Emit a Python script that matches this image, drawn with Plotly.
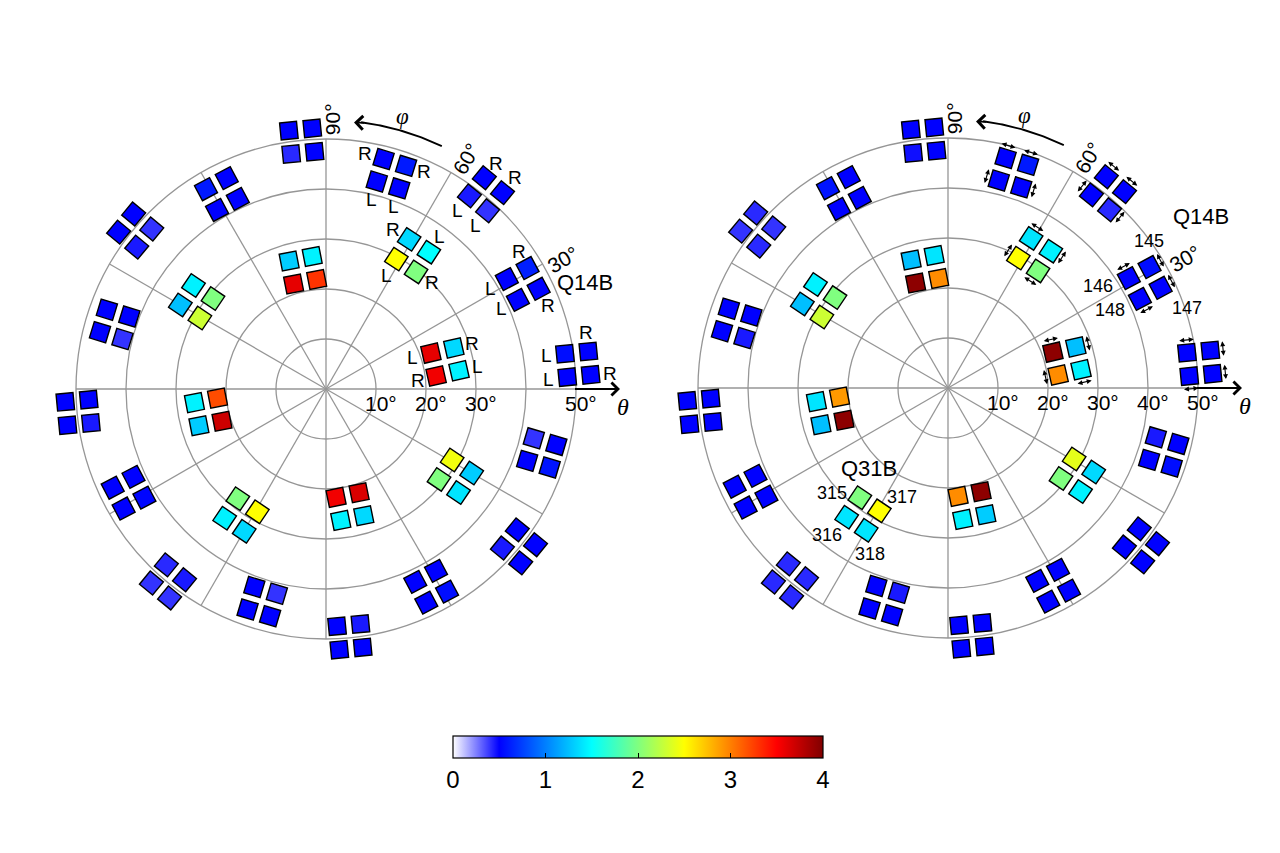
import numpy as np
import plotly.graph_objects as go
from plotly.colors import sample_colorscale

# clover positions: theta (radius) and phi (azimuth), degrees
OUTER_PHI = [95.6, 73.1, 50.6, 28.1, 5.6, -16.5, -39.2, -62.0,
             -84.5, -106.7, -129.4, -152.3, -174.6, 163.0, 140.3, 118.1]
OUTER_THETA = [49.8, 45.0, 50.4, 44.6, 50.6, 45.0, 49.8, 44.8,
               49.8, 44.4, 49.8, 44.6, 49.8, 44.2, 49.6, 44.2]
INNER_PHI = [101.0, 57.0, 12.8, -34.0, -78.5, -124.0, -169.0, 146.0]
INNER_THETA = [24.2, 31.8, 24.4, 31.2, 24.0, 30.4, 24.0, 31.2]

# crystal values per clover, order: (outer,+phi) (outer,-phi) (inner,+phi) (inner,-phi)
LEFT_OUTER = [
    [0.50, 0.50, 0.42, 0.50], [0.50, 0.60, 0.50, 0.50], [0.50, 0.50, 0.45, 0.40], [0.62, 0.50, 0.50, 0.50],
    [0.50, 0.50, 0.55, 0.50], [0.50, 0.58, 0.40, 0.50], [0.50, 0.50, 0.50, 0.45], [0.55, 0.50, 0.50, 0.50],
    [0.50, 0.50, 0.45, 0.50], [0.50, 0.50, 0.40, 0.50], [0.40, 0.40, 0.45, 0.42], [0.50, 0.50, 0.52, 0.50],
    [0.50, 0.50, 0.45, 0.50], [0.50, 0.50, 0.40, 0.50], [0.50, 0.50, 0.45, 0.40], [0.60, 0.50, 0.50, 0.50],
]
LEFT_INNER = [
    [1.30, 1.45, 3.60, 3.30], [1.35, 1.50, 2.50, 2.00], [1.35, 1.45, 3.60, 3.55], [1.30, 1.40, 2.45, 2.00],
    [1.35, 1.45, 3.65, 3.55], [1.35, 1.45, 2.50, 2.00], [1.30, 1.45, 3.70, 3.20], [1.25, 1.45, 2.30, 2.00],
]
RIGHT_OUTER = [
    [0.50, 0.50, 0.47, 0.50], [0.50, 0.60, 0.50, 0.50], [0.50, 0.50, 0.50, 0.42], [0.55, 0.50, 0.50, 0.50],
    [0.50, 0.50, 0.50, 0.50], [0.50, 0.55, 0.45, 0.50], [0.50, 0.50, 0.50, 0.50], [0.50, 0.50, 0.50, 0.50],
    [0.50, 0.50, 0.50, 0.50], [0.50, 0.50, 0.45, 0.50], [0.42, 0.42, 0.42, 0.42], [0.50, 0.50, 0.50, 0.50],
    [0.50, 0.50, 0.50, 0.50], [0.50, 0.50, 0.45, 0.50], [0.40, 0.42, 0.42, 0.40], [0.58, 0.50, 0.50, 0.50],
]
RIGHT_INNER = [
    [1.25, 1.40, 3.95, 2.95], [1.40, 1.45, 2.50, 2.00], [1.25, 1.45, 3.95, 2.95], [1.35, 1.45, 2.40, 2.00],
    [1.30, 1.45, 3.95, 2.95], [1.40, 1.40, 2.50, 2.00], [1.25, 1.40, 3.95, 2.90], [1.25, 1.45, 2.30, 2.00],
]

RINGS = [10, 20, 30, 40, 50]
SPOKES = list(range(0, 360, 30))
PHI_TICKS = [30, 60, 90]
LEFT_THETA_TICKS = [10, 20, 30, 50]
RIGHT_THETA_TICKS = [10, 20, 30, 40, 50]
CBAR_TICKS = [0, 1, 2, 3, 4]

# left panel crystal names, right panel segmentation arrows (r = radial, t = tangential)
LR_LABELS = {("o", 1): "RRLL", ("o", 2): "RRLL", ("o", 3): "RRLL", ("o", 4): "RRLL",
             ("i", 1): "RLLR", ("i", 2): "RLLR"}
LR_SIDE = {("o", 1): "vvuu", ("o", 2): "uuuu", ("o", 3): "vvuu", ("o", 4): "vuuu",
           ("i", 1): "vuuv", ("i", 2): "uuuu"}
SEG_ARROWS = {("o", 1): "ttrr", ("o", 2): "ttrr", ("o", 3): "ttrr", ("o", 4): "ttrr",
              ("i", 1): "trrt", ("i", 2): "trrt"}
Q14B_IDS = ["145", "147", "146", "148"]
Q31B_IDS = ["318", "316", "317", "315"]

JET_W = [[0.0, "rgb(255,255,255)"], [0.125, "rgb(0,0,255)"], [0.375, "rgb(0,255,255)"],
         [0.625, "rgb(255,255,0)"], [0.875, "rgb(255,0,0)"], [1.0, "rgb(128,0,0)"]]
VMAX = 4.0

QUAD = [(1, 1), (1, -1), (-1, 1), (-1, -1)]
SQ_OFF = 2.35    # crystal centre offset from clover centre (deg)
SQ_HALF = 1.7    # half side of a crystal (deg)
GRID = "rgb(150,150,150)"
FONT = "Liberation Sans"


def basis(phi):
    p = np.radians(phi)
    return np.array([np.cos(p), np.sin(p)]), np.array([-np.sin(p), np.cos(p)])


def crystal(theta, phi, su, sv):
    u, v = basis(phi)
    return theta * u + SQ_OFF * (su * u + sv * v), u, v


def square_path(c, u, v):
    h = SQ_HALF
    pts = [c + h * (u + v), c + h * (u - v), c + h * (-u - v), c + h * (-u + v)]
    return "M" + " L".join(f"{p[0]:.3f},{p[1]:.3f}" for p in pts) + " Z"


fig = go.Figure()
shapes, annos = [], []

panels = [("x", "y", LEFT_OUTER, LEFT_INNER, LEFT_THETA_TICKS),
          ("x2", "y2", RIGHT_OUTER, RIGHT_INNER, RIGHT_THETA_TICKS)]

for pi, (xr, yr, outer_vals, inner_vals, tticks) in enumerate(panels):
    # grid
    for r in RINGS:
        shapes.append(dict(type="circle", xref=xr, yref=yr, x0=-r, x1=r, y0=-r, y1=r,
                           line=dict(color=GRID, width=1.3)))
    for s in SPOKES:
        u, _ = basis(s)
        shapes.append(dict(type="line", xref=xr, yref=yr, x0=0, y0=0, x1=RINGS[-1] * u[0], y1=RINGS[-1] * u[1],
                           line=dict(color=GRID, width=1.3)))

    rings = [("o", OUTER_THETA, OUTER_PHI, outer_vals), ("i", INNER_THETA, INNER_PHI, inner_vals)]
    for key, thetas, phis, vals in rings:
        for gi, (th, ph, vv) in enumerate(zip(thetas, phis, vals)):
            cols = sample_colorscale(JET_W, [x / VMAX for x in vv])
            for qi, (su, sv) in enumerate(QUAD):
                c, u, v = crystal(th, ph, su, sv)
                shapes.append(dict(type="path", xref=xr, yref=yr, path=square_path(c, u, v),
                                   fillcolor=cols[qi], line=dict(color="black", width=1.4)))
                if pi == 0 and (key, gi) in LR_LABELS:
                    side = LR_SIDE[(key, gi)][qi]
                    off = su * u if side == "u" else sv * v
                    p = c + 3.8 * off
                    annos.append(dict(x=p[0], y=p[1], xref=xr, yref=yr, text=LR_LABELS[(key, gi)][qi],
                                      showarrow=False, font=dict(size=19)))
                if pi == 1 and (key, gi) in SEG_ARROWS:
                    kind = SEG_ARROWS[(key, gi)][qi]
                    if kind == "r":
                        mid, d = c + 2.55 * sv * v, u
                    else:
                        mid, d = c + 2.55 * su * u, v
                    a0, a1 = mid - 1.6 * d, mid + 1.6 * d
                    annos.append(dict(x=a1[0], y=a1[1], ax=a0[0], ay=a0[1], xref=xr, yref=yr,
                                      axref=xr, ayref=yr, text="", showarrow=True, arrowside="end+start",
                                      arrowhead=2, startarrowhead=2, arrowsize=0.9, startarrowsize=0.9,
                                      arrowwidth=1.1, arrowcolor="black"))

    # theta axis arrow and labels
    annos.append(dict(x=58.8, y=0, ax=RINGS[-1] - 0.5, ay=0, xref=xr, yref=yr, axref=xr, ayref=yr, text="",
                      showarrow=True, arrowhead=4, arrowsize=1.4, arrowwidth=1.8, arrowcolor="black"))
    annos.append(dict(x=59.3, y=-3.5, xref=xr, yref=yr, text="<i>θ</i>", showarrow=False,
                      font=dict(size=24, family="Liberation Serif")))
    for t in tticks:
        annos.append(dict(x=t + 1.0, y=-2.9, xref=xr, yref=yr, text=f"{t}°", showarrow=False,
                          font=dict(size=21)))
    for t in PHI_TICKS:
        u, _ = basis(t - 1.3)
        annos.append(dict(x=54.0 * u[0], y=54.0 * u[1], xref=xr, yref=yr, text=f"{t}°", showarrow=False,
                          textangle=-t, font=dict(size=21)))

    # phi direction arrow
    arc = np.radians(np.linspace(64.5, 82.5, 40))
    fig.add_trace(go.Scatter(x=53.8 * np.cos(arc), y=53.8 * np.sin(arc), mode="lines", xaxis=xr, yaxis=yr,
                             line=dict(color="black", width=1.9), hoverinfo="skip", showlegend=False))
    e0, e1 = np.radians(81.5), np.radians(84.0)
    annos.append(dict(x=53.6 * np.cos(e1), y=53.6 * np.sin(e1), ax=53.8 * np.cos(e0), ay=53.8 * np.sin(e0),
                      xref=xr, yref=yr, axref=xr, ayref=yr, text="", showarrow=True, arrowhead=4,
                      arrowsize=1.4, arrowwidth=1.9, arrowcolor="black"))
    u, _ = basis(74.3)
    annos.append(dict(x=56.6 * u[0], y=56.6 * u[1], xref=xr, yref=yr, text="<i>φ</i>", showarrow=False,
                      font=dict(size=23, family="Liberation Serif")))

    # clover name Q14B
    q14 = OUTER_THETA[3] * basis(OUTER_PHI[3])[0]
    shift = (62, 1) if pi == 0 else (56, 66)
    annos.append(dict(x=q14[0], y=q14[1], xref=xr, yref=yr, text="Q14B", showarrow=False,
                      xshift=shift[0], yshift=shift[1], font=dict(size=22)))

# crystal numbers on the right panel
id_shifts_14 = [(-1, 26), (26, -20), (-31, -8), (-30, -11)]
id_shifts_31 = [(4, -24), (-20, -18), (23, 14), (-28, 5)]
for qi, (su, sv) in enumerate(QUAD):
    c, _, _ = crystal(OUTER_THETA[3], OUTER_PHI[3], su, sv)
    annos.append(dict(x=c[0], y=c[1], xref="x2", yref="y2", text=Q14B_IDS[qi], showarrow=False,
                      xshift=id_shifts_14[qi][0], yshift=id_shifts_14[qi][1], font=dict(size=18)))
    c, _, _ = crystal(INNER_THETA[5], INNER_PHI[5], su, sv)
    annos.append(dict(x=c[0], y=c[1], xref="x2", yref="y2", text=Q31B_IDS[qi], showarrow=False,
                      xshift=id_shifts_31[qi][0], yshift=id_shifts_31[qi][1], font=dict(size=18)))
q31 = INNER_THETA[5] * basis(INNER_PHI[5])[0]
annos.append(dict(x=q31[0], y=q31[1], xref="x2", yref="y2", text="Q31B", showarrow=False,
                  xshift=6, yshift=46, font=dict(size=22)))

# colour bar
fig.add_trace(go.Scatter(
    x=[None], y=[None], mode="markers", showlegend=False, hoverinfo="skip",
    marker=dict(color=[0], colorscale=JET_W, cmin=0, cmax=VMAX, showscale=True,
                colorbar=dict(orientation="h", x=630 / 1280, xanchor="center", y=1 - 728 / 853, yanchor="top",
                              len=370, lenmode="pixels", thickness=22, outlinewidth=1.2, outlinecolor="black",
                              tickvals=CBAR_TICKS, ticks="inside", ticklen=5, tickcolor="black",
                              tickfont=dict(size=24, family=FONT, color="black"), xpad=0, ypad=0)),
))

# the page adds an 8 px body margin, so the plot centres sit 8 px up/left of the target
axis_off = dict(visible=False, showgrid=False, zeroline=False, fixedrange=True)
fig.update_layout(
    width=1280, height=853, margin=dict(l=0, r=0, t=0, b=0, autoexpand=False),
    paper_bgcolor="white", plot_bgcolor="white",
    font=dict(family=FONT, color="black"),
    xaxis=dict(domain=[0, 0.5], range=[-63.6, 64.4], **axis_off),
    yaxis=dict(domain=[0, 1], range=[-94.4, 76.2], **axis_off),
    xaxis2=dict(domain=[0.5, 1], range=[-60.0, 68.0], **axis_off),
    yaxis2=dict(domain=[0, 1], range=[-94.6, 76.0], anchor="x2", **axis_off),
    shapes=shapes, annotations=annos,
)
fig.write_html("out.html")
